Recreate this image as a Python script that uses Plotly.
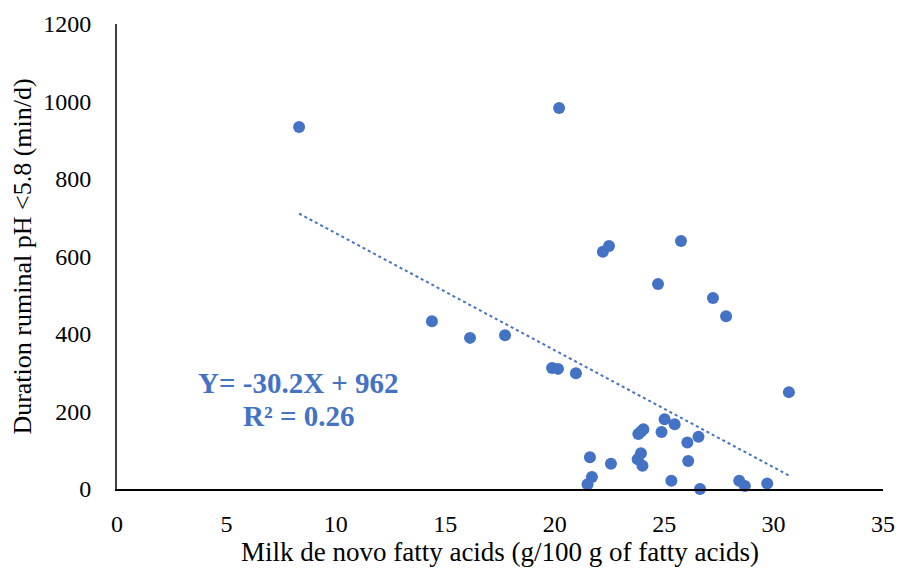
import plotly.graph_objects as go

x_vals = [8.32, 20.2, 14.39, 16.13, 17.73, 19.88, 20.15, 20.97, 22.2, 22.48,
          24.72, 25.77, 27.23, 27.83, 30.7,
          25.02, 25.48, 23.82, 23.94, 24.05, 24.88, 26.06, 26.57,
          21.61, 22.57, 23.94, 23.79, 24.01, 26.1,
          21.7, 21.5, 25.33, 26.64, 28.43, 28.69, 29.71]
y_vals = [934, 983, 433, 390, 397, 312, 310, 299, 612, 627,
          529, 640, 493, 446, 250,
          180, 167, 142, 148, 154, 147, 120, 135,
          82, 65, 92, 77, 60, 72,
          31, 12, 21, 0, 21, 8, 14]

slope = -30.2
intercept = 962
x_ticks = [0, 5, 10, 15, 20, 25, 30, 35]
y_ticks = [0, 200, 400, 600, 800, 1000, 1200]

blue = "#4472C4"
font_family = "Liberation Serif, Times New Roman, serif"

xmin, xmax = min(x_vals), max(x_vals)
trend_x = [xmin, xmax]
trend_y = [slope * v + intercept for v in trend_x]

fig = go.Figure()
fig.add_trace(go.Scatter(x=trend_x, y=trend_y, mode="lines",
                         line=dict(color=blue, width=2, dash="dot"),
                         hoverinfo="skip", showlegend=False))
fig.add_trace(go.Scatter(x=x_vals, y=y_vals, mode="markers",
                         marker=dict(color=blue, size=12),
                         showlegend=False, cliponaxis=False))

fig.add_annotation(x=8.3, y=273, xref="x", yref="y",
                   text="<b>Y= -30.2X + 962</b>",
                   showarrow=False, align="center",
                   font=dict(family=font_family, size=29, color=blue))
fig.add_annotation(x=8.3, y=188, xref="x", yref="y",
                   text="<b>R² = 0.26</b>",
                   showarrow=False, align="center",
                   font=dict(family=font_family, size=29, color=blue))

tick_font = dict(family=font_family, size=24, color="black")

fig.update_layout(
    width=903, height=568,
    margin=dict(l=117, r=20, t=24, b=79),
    plot_bgcolor="white", paper_bgcolor="white",
    font=dict(family=font_family, size=24, color="black"),
    xaxis=dict(range=[0, 35], tickvals=x_ticks, showgrid=False, zeroline=False,
               showline=True, linecolor="black", linewidth=2, ticks="",
               tickfont=tick_font,
               ticklabelstandoff=12, automargin=False,
               title=dict(text="Milk de novo fatty acids (g/100 g of fatty acids)",
                          font=dict(family=font_family, size=27), standoff=6)),
    yaxis=dict(range=[0, 1200], tickvals=y_ticks, showgrid=False, zeroline=False,
               showline=True, linecolor="#404040", linewidth=2, ticks="",
               tickfont=tick_font,
               ticklabelstandoff=19, automargin=False,
               title=dict(text="Duration ruminal pH <5.8 (min/d)",
                          font=dict(family=font_family, size=26), standoff=4)),
)

fig.write_html("out.html",
               config={"displayModeBar": False},
               post_script="document.body.style.margin='0';document.body.style.padding='0';")
